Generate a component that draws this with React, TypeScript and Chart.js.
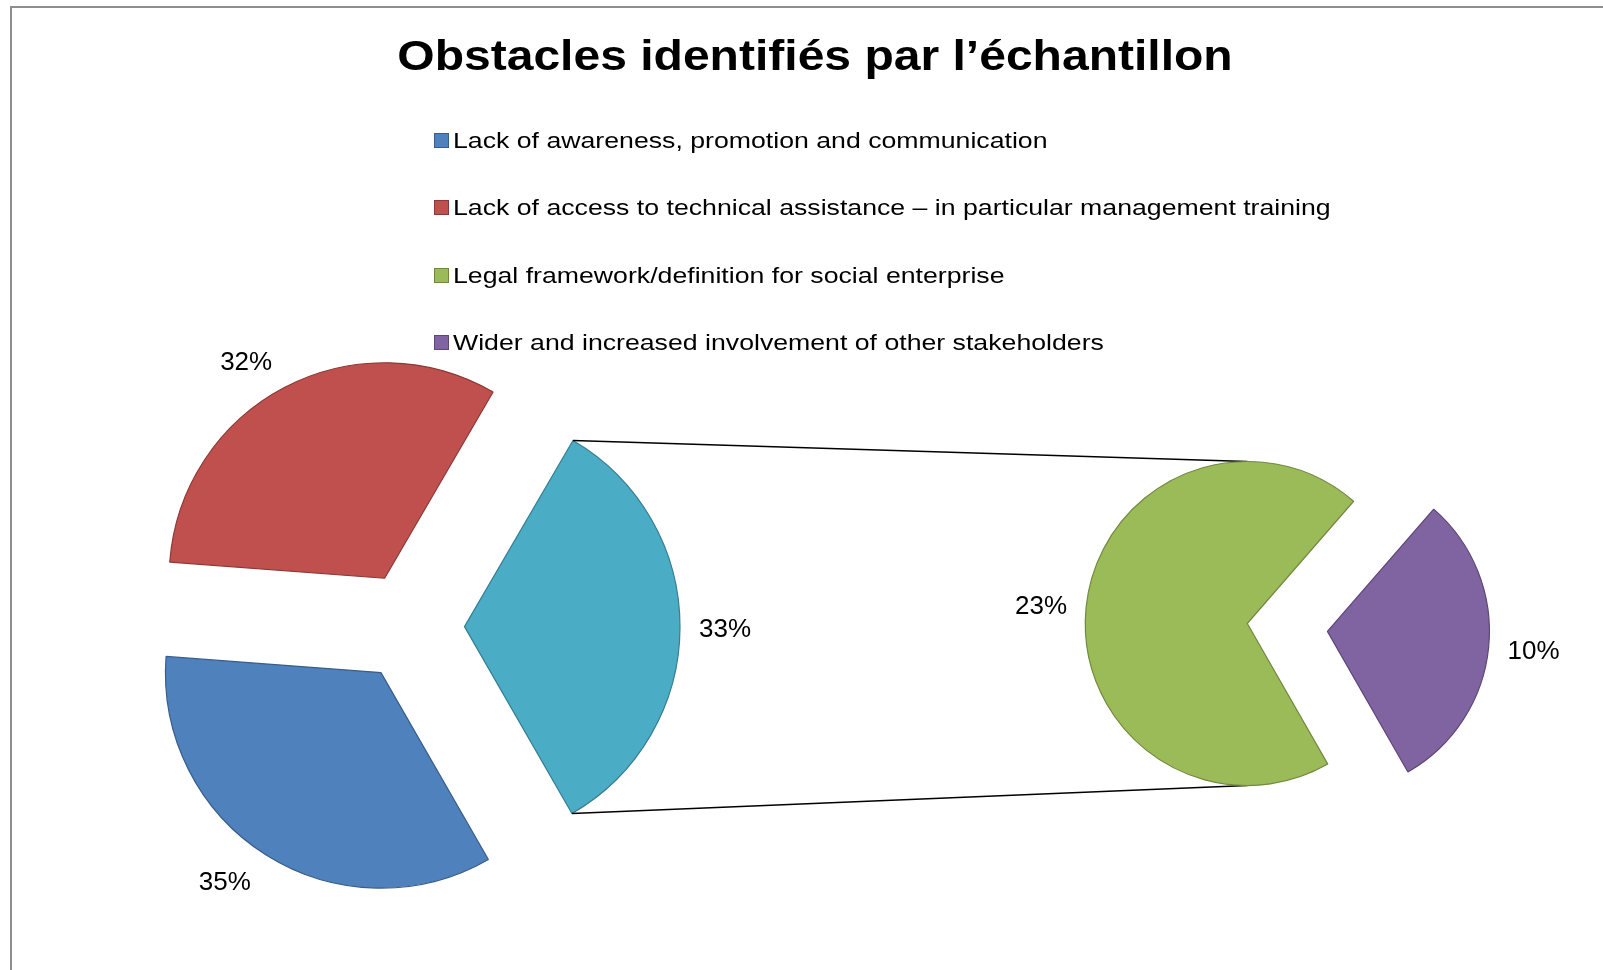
import React, { useEffect, useRef } from 'react';
import { Chart, registerables, ArcElement, PieController } from 'chart.js';

// ---------- data ----------
const chartTitle = 'Obstacles identifiés par l’échantillon';
const categories = [
  'Lack of awareness, promotion and communication',
  'Lack of access to technical assistance – in particular management training',
  'Legal framework/definition for social enterprise',
  'Wider and increased involvement of other stakeholders',
];
const shares = [34.5, 32.2, 23.2, 10.1]; // percent of sample (labels show rounded values)
const primaryCount = 2; // categories kept in the main pie; the rest go to the secondary pie
const otherLabel = 'Other';

const fillColors = ['#4F81BD', '#C0504D', '#9BBB59', '#8064A2'];
const edgeColors = ['#385D8A', '#8C3836', '#71893F', '#5C4776'];
const otherFill = '#4BACC6';
const otherEdge = '#357D91';

const primaryLabels = [...categories.slice(0, primaryCount), otherLabel];
const primaryValues = [
  ...shares.slice(0, primaryCount),
  shares.slice(primaryCount).reduce((a, b) => a + b, 0),
];
const secondaryLabels = categories.slice(primaryCount);
const secondaryValues = shares.slice(primaryCount);

// ---------- exploded-slice element / controller ----------
class ExplodedArc extends (ArcElement as any) {
  static id = 'explodedArc';
  static defaults = { ...(ArcElement as any).defaults, explode: 0 };
  draw(ctx: CanvasRenderingContext2D) {
    const self: any = this;
    const e = (self.options && self.options.explode) || 0;
    const mid = (self.startAngle + self.endAngle) / 2;
    ctx.save();
    ctx.translate(Math.cos(mid) * e, Math.sin(mid) * e);
    super.draw(ctx);
    ctx.restore();
  }
}
class ExplodedPieController extends (PieController as any) {
  static id = 'explodedPie';
  static defaults = { ...(PieController as any).defaults, dataElementType: 'explodedArc' };
}
Chart.register(...registerables, ExplodedArc as any, ExplodedPieController as any);

const FONT = '"Liberation Sans", Arial, Helvetica, sans-serif';
const LABEL_GAP = 8; // gap beyond the slice edge
const LABEL_BOX_X = 37; // half label box extent, horizontal
const LABEL_BOX_Y = 22; // label box extent, vertical
const LABEL_SIZE = 26;

const sliceLabels = {
  id: 'sliceLabels',
  afterDatasetsDraw(chart: any) {
    const ctx = chart.ctx;
    const meta = chart.getDatasetMeta(0);
    const ds = chart.data.datasets[0];
    ctx.save();
    ctx.font = `${LABEL_SIZE}px ${FONT}`;
    ctx.fillStyle = '#000000';
    ctx.textAlign = 'center';
    ctx.textBaseline = 'alphabetic';
    meta.data.forEach((arc: any, i: number) => {
      const e = arc.options.explode || 0;
      const mid = (arc.startAngle + arc.endAngle) / 2;
      const c = Math.cos(mid);
      const s = Math.sin(mid);
      const d = e + arc.outerRadius + LABEL_GAP;
      const lx = arc.x + c * d + Math.sign(c) * Math.min(1, Math.abs(c) * 2) * LABEL_BOX_X;
      const ly = arc.y + s * d + s * LABEL_BOX_Y + LABEL_SIZE * 0.358;
      ctx.fillText(`${Math.round(ds.data[i])}%`, lx, ly);
    });
    ctx.restore();
  },
};

const makeConnectors = (getMain: () => any) => ({
  id: 'connectors',
  beforeDatasetsDraw(chart: any) {
    const main = getMain();
    if (!main) return;
    const other = main.getDatasetMeta(0).data[primaryCount];
    const sec = chart.getDatasetMeta(0).data[0];
    if (!other || !sec) return;
    const e = other.options.explode || 0;
    const mid = (other.startAngle + other.endAngle) / 2;
    const ax = other.x + Math.cos(mid) * e;
    const ay = other.y + Math.sin(mid) * e;
    const r = other.outerRadius;
    const R = sec.outerRadius;
    const ctx = chart.ctx;
    ctx.save();
    ctx.strokeStyle = '#000000';
    ctx.lineWidth = 1.6;
    ctx.beginPath();
    ctx.moveTo(ax + Math.cos(other.startAngle) * r, ay + Math.sin(other.startAngle) * r);
    ctx.lineTo(sec.x, sec.y - R);
    ctx.moveTo(ax + Math.cos(other.endAngle) * r, ay + Math.sin(other.endAngle) * r);
    ctx.lineTo(sec.x, sec.y + R);
    ctx.stroke();
    ctx.restore();
  },
});

const W = 1603;
const H = 970;

export default function App() {
  const mainRef = useRef<HTMLCanvasElement | null>(null);
  const secRef = useRef<HTMLCanvasElement | null>(null);

  useEffect(() => {
    const common = {
      responsive: false,
      animation: false,
      events: [],
      plugins: { legend: { display: false }, tooltip: { enabled: false }, title: { display: false } },
    };
    const main = new Chart(mainRef.current as HTMLCanvasElement, {
      type: 'explodedPie' as any,
      data: {
        labels: primaryLabels,
        datasets: [
          {
            data: primaryValues,
            backgroundColor: [...fillColors.slice(0, primaryCount), otherFill],
            borderColor: [...edgeColors.slice(0, primaryCount), otherEdge],
            borderWidth: 1.2,
            explode: 54.5,
          } as any,
        ],
      },
      options: {
        ...common,
        rotation: 150.1,
        radius: 215.5,
        layout: { padding: { left: 0, right: 783, top: 283, bottom: 0 } },
      } as any,
      plugins: [sliceLabels],
    });
    const secondary = new Chart(secRef.current as HTMLCanvasElement, {
      type: 'explodedPie' as any,
      data: {
        labels: secondaryLabels,
        datasets: [
          {
            data: secondaryValues,
            backgroundColor: fillColors.slice(primaryCount),
            borderColor: edgeColors.slice(primaryCount),
            borderWidth: 1.2,
            explode: [0, 80.5],
          } as any,
        ],
      },
      options: {
        ...common,
        rotation: 150.2,
        radius: 162,
        layout: { padding: { left: 891.6, right: 0, top: 277, bottom: 0 } },
      } as any,
      plugins: [makeConnectors(() => main), sliceLabels],
    });
    return () => {
      secondary.destroy();
      main.destroy();
    };
  }, []);

  const legendBase = 148.3;
  const legendStep = 67.3;

  return (
    <div style={{ position: 'absolute', left: 0, top: 0, width: W, height: H, overflow: 'hidden', background: '#ffffff' }}>
      <div
        style={{
          position: 'absolute', left: 10, top: 6, width: W - 10, height: H - 6, boxSizing: 'border-box',
          borderLeft: '2px solid #8e8e8e', borderTop: '2px solid #8e8e8e',
        }}
      />
      <canvas ref={mainRef} width={W} height={H} style={{ position: 'absolute', left: 0, top: 0 }} />
      <canvas ref={secRef} width={W} height={H} style={{ position: 'absolute', left: 0, top: 0 }} />
      <div
        style={{
          position: 'absolute', left: 27, top: 33.6, width: 1576, textAlign: 'center', whiteSpace: 'nowrap',
          font: `bold 43px ${FONT}`, lineHeight: '43px', color: '#000', transform: 'scaleX(1.117)',
        }}
      >
        {chartTitle}
      </div>
      {categories.map((c, i) => {
        const b = legendBase + legendStep * i;
        return (
          <React.Fragment key={c}>
            <div
              style={{
                position: 'absolute', left: 434, top: b - 15.3, width: 15, height: 15, boxSizing: 'border-box',
                background: fillColors[i], border: `1px solid ${edgeColors[i]}`,
              }}
            />
            <div
              style={{
                position: 'absolute', left: 452.7, top: b - 19.3, whiteSpace: 'nowrap', font: `22.8px ${FONT}`,
                lineHeight: '22.8px', color: '#000', transform: 'scaleX(1.17)', transformOrigin: 'left center',
              }}
            >
              {c}
            </div>
          </React.Fragment>
        );
      })}
    </div>
  );
}
